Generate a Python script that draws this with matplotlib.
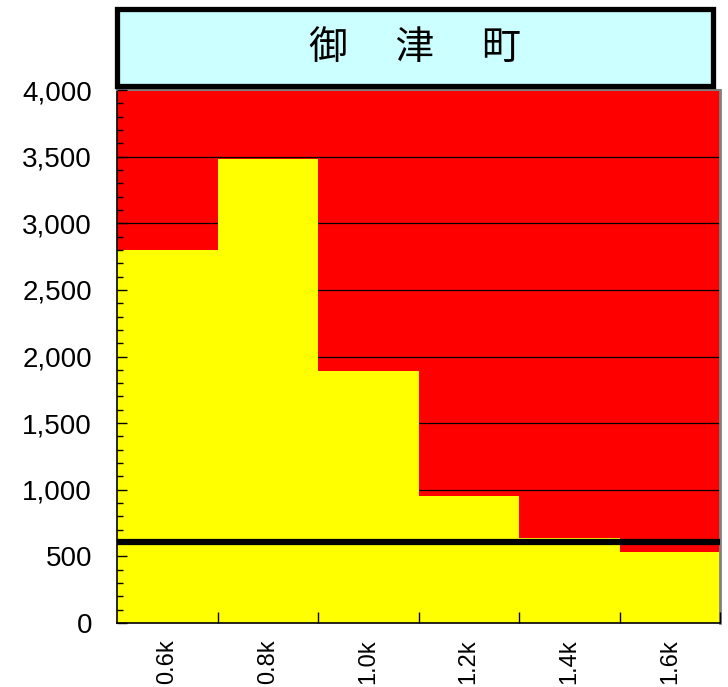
import matplotlib
matplotlib.use("Agg")
import matplotlib.pyplot as plt
from matplotlib.patches import Rectangle
from matplotlib.ticker import MultipleLocator, FixedLocator, FuncFormatter, NullFormatter

# bar categories and heights
categories = ["0.6k", "0.8k", "1.0k", "1.2k", "1.4k", "1.6k"]
values = [2800, 3480, 1890, 950, 640, 535]
ref_level = 610
y_max = 4000
title = "御　 津　 町"

W, H = 728, 687
fig = plt.figure(figsize=(W / 100, H / 100), dpi=100)
ax = fig.add_axes([117 / W, 1 - 623 / H, 603 / W, 533 / H])

ax.set_facecolor("#ff0000")
ax.set_axisbelow(False)
x = list(range(len(categories)))
ax.bar(x, values, width=1.0, color="#ffff00", linewidth=0, zorder=2)
ax.axhline(ref_level, color="black", linewidth=4.5, zorder=3)

ax.set_xlim(-0.5, len(categories) - 0.5)
ax.set_ylim(0, y_max)

# y axis: majors every 500, minors every 100
ax.yaxis.set_major_locator(MultipleLocator(500))
ax.yaxis.set_minor_locator(MultipleLocator(100))
ax.yaxis.set_major_formatter(FuncFormatter(lambda v, p: f"{int(v):,}"))
ax.tick_params(axis="y", which="major", direction="in", length=7, width=1,
               labelsize=20, pad=18)
ax.tick_params(axis="y", which="minor", direction="in", length=4, width=1)

# gridlines sit behind the bars, ticks stay on top
for v in range(500, y_max, 500):
    ax.axhline(v, color="black", linewidth=0.9, zorder=1)

# x axis: ticks on category borders, labels at centres
ax.xaxis.set_major_locator(FixedLocator([i + 0.5 for i in x]))
ax.xaxis.set_major_formatter(NullFormatter())
ax.xaxis.set_minor_locator(FixedLocator(x))
ax.set_xticklabels(categories, minor=True, rotation=90, fontsize=17)
ax.tick_params(axis="x", which="major", direction="in", length=8, width=1)
ax.tick_params(axis="x", which="minor", length=0, pad=12)

for lab in ax.get_yticklabels() + ax.get_xticklabels(minor=True):
    lab.set_family("Liberation Sans")

ax.spines["left"].set_color("black")
ax.spines["bottom"].set_color("black")
ax.spines["left"].set_linewidth(1.2)
ax.spines["bottom"].set_linewidth(1.2)
ax.spines["right"].set_color("#808080")
ax.spines["top"].set_color("#808080")
ax.spines["right"].set_linewidth(2)
ax.spines["top"].set_linewidth(1.5)

# title box
box = Rectangle((117 / W, 1 - 86 / H), 596 / W, 77 / H, transform=fig.transFigure,
                facecolor="#ccffff", edgecolor="black", linewidth=3.8)
fig.add_artist(box)
fig.text(415 / W, 1 - 48 / H, title, ha="center", va="center", fontsize=28,
         family=["Noto Sans CJK JP", "DejaVu Sans"])

fig.savefig("out.png", dpi=100)
